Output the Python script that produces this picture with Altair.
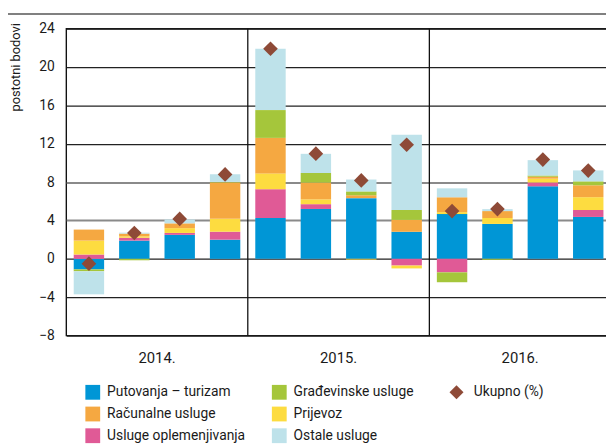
import altair as alt
import pandas as pd

quarters = ["2014 Q1", "2014 Q2", "2014 Q3", "2014 Q4",
            "2015 Q1", "2015 Q2", "2015 Q3", "2015 Q4",
            "2016 Q1", "2016 Q2", "2016 Q3", "2016 Q4"]
years = ["2014.", "2015.", "2016."]
year_mid_quarters = ["2014 Q2", "2015 Q2", "2016 Q2"]
year_starts = ["2015 Q1", "2016 Q1"]

putovanja = [-1.10, 1.90, 2.50, 2.00, 4.26, 5.20, 6.33, 2.82, 4.67, 3.64, 7.56, 4.37]
oplemenjivanje = [0.45, 0.30, 0.20, 0.83, 3.00, 0.50, 0.00, -0.70, -1.41, 0.00, 0.40, 0.72]
prijevoz = [1.45, 0.15, 0.50, 1.34, 1.65, 0.50, -0.08, -0.30, 0.20, 0.62, 0.40, 1.34]
racunalne = [1.15, 0.28, 0.50, 3.80, 3.70, 1.75, 0.30, 1.24, 1.55, 0.72, 0.20, 1.24]
gradjevinske = [-0.20, -0.15, 0.00, 0.05, 2.90, 1.00, 0.40, 1.03, -1.03, -0.10, 0.13, 0.41]
ostale = [-2.40, 0.10, 0.40, 0.80, 6.40, 2.00, 1.24, 7.84, 0.93, 0.20, 1.60, 1.14]
ukupno = [-0.50, 2.70, 4.16, 8.80, 21.90, 10.97, 8.18, 11.90, 4.98, 5.19, 10.35, 9.20]

# stacking order (from the zero line outwards)
series_names = ["Putovanja – turizam", "Usluge oplemenjivanja", "Prijevoz",
                "Računalne usluge", "Građevinske usluge", "Ostale usluge"]
series_values = [putovanja, oplemenjivanje, prijevoz, racunalne, gradjevinske, ostale]

# legend order (filled column by column)
legend_order = ["Putovanja – turizam", "Računalne usluge", "Usluge oplemenjivanja",
                "Građevinske usluge", "Prijevoz", "Ostale usluge"]
legend_colors = ["#0096D6", "#F5A841", "#E05A96", "#A5C63B", "#FDDC40", "#BEE2EA"]

y_ticks = [-8, -4, 0, 4, 8, 12, 16, 20, 24]

rows = []
for rank, (name, vals) in enumerate(zip(series_names, series_values)):
    for q, v in zip(quarters, vals):
        rows.append({"q": q, "serie": name, "v": v, "rank": rank})
df = pd.DataFrame(rows)
tot = pd.DataFrame({"q": quarters, "v": ukupno, "lab": ["Ukupno (%)"] * len(quarters)})
yr = pd.DataFrame({"q": year_mid_quarters, "year": years})
sep = pd.DataFrame({"q": year_starts})

FONT = "Roboto, Liberation Sans, sans-serif"
TXT = "#1a1a1a"

xscale = alt.Scale(domain=quarters, paddingInner=0, paddingOuter=0)
yscale = alt.Scale(domain=[-8, 24], nice=False, zero=False)

mid_test = "datum.value === 4 || datum.value === 8"


def make_yaxis():
    return alt.Axis(
        title="postotni bodovi", values=y_ticks, domain=False, ticks=False,
        labelPadding=12, labelFontSize=14, labelFont=FONT, labelColor=TXT,
        grid=True,
        gridColor={"condition": {"test": mid_test, "value": "#8a8a8a"}, "value": "#222222"},
        gridWidth={"condition": {"test": mid_test, "value": 2}, "value": 1.2},
        titleX=-51, titleY=-6, titleAngle=-90, titleAlign="right", titleBaseline="middle",
        titleFontSize=13, titleFontWeight="normal", titleFont=FONT, titleColor=TXT,
    )


def make_x(band_pos=None):
    if band_pos is None:
        return alt.X("q:N", scale=xscale, axis=None, sort=quarters)
    return alt.X("q:N", scale=xscale, axis=None, sort=quarters, bandPosition=band_pos)


bars = alt.Chart(df).mark_bar(width={"band": 0.67}).encode(
    x=make_x(),
    y=alt.Y("v:Q", scale=yscale, axis=make_yaxis(), stack="zero"),
    color=alt.Color(
        "serie:N",
        scale=alt.Scale(domain=legend_order, range=legend_colors),
        legend=alt.Legend(
            orient="none", legendX=19.4, legendY=361, columns=2, title=None,
            symbolType="square", symbolSize=225, symbolStrokeWidth=0,
            labelFontSize=14, labelFont=FONT, labelColor=TXT, labelOffset=7,
            rowPadding=7, columnPadding=26, padding=0,
        ),
    ),
    order=alt.Order("rank:Q"),
)

separators = alt.Chart(sep).mark_rule(color="#111111", strokeWidth=1.3).encode(
    x=make_x(0),
    y=alt.value(0), y2=alt.value(311),
)

points = alt.Chart(tot).mark_point(filled=True, color="#8E4A37", opacity=1, size=220).encode(
    x=make_x(),
    y=alt.Y("v:Q", scale=yscale, axis=make_yaxis()),
    shape=alt.Shape(
        "lab:N",
        scale=alt.Scale(domain=["Ukupno (%)"], range=["diamond"]),
        legend=alt.Legend(
            orient="none", legendX=388, legendY=361, title=None,
            symbolSize=200, symbolFillColor="#8E4A37", symbolStrokeWidth=0,
            labelFontSize=14, labelFont=FONT, labelColor=TXT, labelOffset=10,
            padding=0,
        ),
    ),
)

year_labels = alt.Chart(yr).mark_text(
    font=FONT, fontSize=15, color=TXT, baseline="top", align="center"
).encode(
    x=make_x(1),
    y=alt.value(327),
    text="year:N",
)

header = alt.Chart(tot).mark_rule(color="#808080", strokeWidth=2).encode(
    x=alt.value(-60), x2=alt.value(552), y=alt.value(-15)
)

# the plot runs a few pixels past the right edge of the page, as in the original
chart = alt.layer(bars, separators, points, year_labels, header).properties(
    width=552, height=311,
    autosize=alt.AutoSizeParams(type="none"),
    padding={"left": 59, "top": 18, "right": -5, "bottom": 111},
).configure_view(
    stroke="#111111", strokeWidth=1.4
)

chart.save("out.html", embed_options={"renderer": "svg", "actions": False})
